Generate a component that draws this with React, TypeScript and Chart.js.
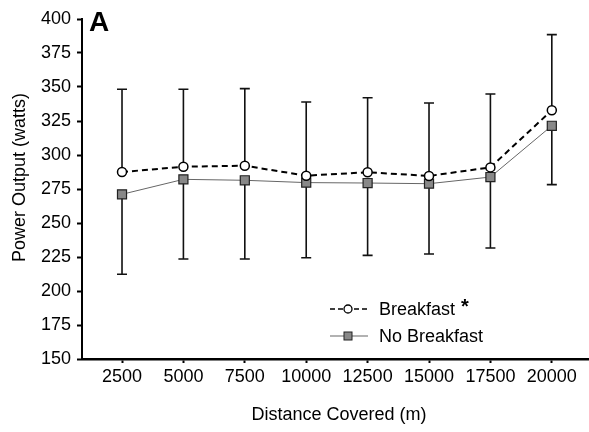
import React, { useEffect, useRef } from "react";
import { Chart, registerables } from "chart.js";

Chart.register(...registerables);

const distances = [2500, 5000, 7500, 10000, 12500, 15000, 17500, 20000];
const breakfastMean = [287.5, 291.4, 292.1, 284.8, 287.3, 284.6, 290.9, 332.9];
const breakfastUpper = [348.3, 348.3, 348.8, 339.0, 342.1, 338.2, 344.9, 388.5];
const noBreakfastMean = [271.1, 282.1, 281.4, 279.7, 279.4, 278.9, 283.8, 321.5];
const noBreakfastLower = [212.3, 223.5, 223.5, 224.5, 226.2, 227.2, 231.6, 278.2];
const yTicks = [150, 175, 200, 225, 250, 275, 300, 325, 350, 375, 400];

const FONT = "'Liberation Sans', Arial, sans-serif";

const errorBarPlugin = {
  id: "errorBars",
  beforeDatasetsDraw(chart: any) {
    const { ctx, scales } = chart;
    const xs = scales.x;
    const ys = scales.y;
    ctx.save();
    ctx.strokeStyle = "#111";
    ctx.lineWidth = 1.6;
    const cap = 5;
    distances.forEach((d, i) => {
      const x = xs.getPixelForValue(d);
      const yb = ys.getPixelForValue(breakfastMean[i]);
      const yu = ys.getPixelForValue(breakfastUpper[i]);
      const yn = ys.getPixelForValue(noBreakfastMean[i]);
      const yl = ys.getPixelForValue(noBreakfastLower[i]);
      ctx.beginPath();
      ctx.moveTo(x, yb);
      ctx.lineTo(x, yu);
      ctx.moveTo(x - cap, yu);
      ctx.lineTo(x + cap, yu);
      ctx.moveTo(x, yn);
      ctx.lineTo(x, yl);
      ctx.moveTo(x - cap, yl);
      ctx.lineTo(x + cap, yl);
      ctx.stroke();
    });
    ctx.restore();
  },
};

const textPlugin = {
  id: "texts",
  afterDraw(chart: any) {
    const { ctx } = chart;
    ctx.save();
    ctx.fillStyle = "#000";
    ctx.font = `bold 28px ${FONT}`;
    ctx.textAlign = "left";
    ctx.textBaseline = "alphabetic";
    ctx.fillText("A", 89, 31);
    ctx.font = `18px ${FONT}`;
    ctx.save();
    ctx.translate(25, 177.5);
    ctx.rotate(-Math.PI / 2);
    ctx.textAlign = "center";
    ctx.fillText("Power Output (watts)", 0, 0);
    ctx.restore();
    ctx.textAlign = "center";
    ctx.fillText("Distance Covered (m)", 339, 420);

    const lx0 = 330;
    const lx1 = 368;
    const cx = 348;
    let y = 309;
    ctx.strokeStyle = "#000";
    ctx.lineWidth = 1.5;
    ctx.setLineDash([5, 3]);
    ctx.beginPath();
    ctx.moveTo(lx0, y);
    ctx.lineTo(lx1, y);
    ctx.stroke();
    ctx.setLineDash([]);
    ctx.beginPath();
    ctx.arc(cx, y, 4, 0, Math.PI * 2);
    ctx.fillStyle = "#fff";
    ctx.fill();
    ctx.lineWidth = 1.3;
    ctx.stroke();
    ctx.fillStyle = "#000";
    ctx.textAlign = "left";
    ctx.font = `18px ${FONT}`;
    ctx.fillText("Breakfast", 379, 315);
    ctx.font = `bold 20px ${FONT}`;
    ctx.fillText("*", 461, 313);
    y = 336;
    ctx.strokeStyle = "#666";
    ctx.lineWidth = 1.2;
    ctx.beginPath();
    ctx.moveTo(lx0, y);
    ctx.lineTo(lx1, y);
    ctx.stroke();
    ctx.fillStyle = "#888";
    ctx.fillRect(cx - 4, y - 4, 8, 8);
    ctx.strokeStyle = "#222";
    ctx.lineWidth = 1;
    ctx.strokeRect(cx - 4, y - 4, 8, 8);
    ctx.fillStyle = "#000";
    ctx.font = `18px ${FONT}`;
    ctx.fillText("No Breakfast", 379, 342);
    ctx.restore();
  },
};

export default function App() {
  const ref = useRef<HTMLCanvasElement | null>(null);
  useEffect(() => {
    if (!ref.current) return;
    const chart = new Chart(ref.current, {
      type: "line",
      data: {
        datasets: [
          {
            label: "Breakfast",
            data: distances.map((d, i) => ({ x: d, y: breakfastMean[i] })),
            borderColor: "#000",
            borderWidth: 2,
            borderDash: [6, 4],
            pointStyle: "circle",
            pointRadius: 4.5,
            pointBackgroundColor: "#fff",
            pointBorderColor: "#000",
            pointBorderWidth: 1.5,
            tension: 0,
          },
          {
            label: "No Breakfast",
            data: distances.map((d, i) => ({ x: d, y: noBreakfastMean[i] })),
            borderColor: "#666",
            borderWidth: 1,
            pointStyle: "rect",
            pointRadius: 6.4,
            pointBackgroundColor: "#888",
            pointBorderColor: "#222",
            pointBorderWidth: 1.2,
            tension: 0,
          },
        ],
      },
      options: {
        animation: false,
        responsive: false,
        maintainAspectRatio: false,
        layout: { autoPadding: false, padding: { left: 0, right: 0, top: 19, bottom: 0 } },
        plugins: {
          legend: { display: false },
          tooltip: { enabled: false },
        },
        scales: {
          x: {
            type: "linear",
            min: 871,
            max: 21514,
            afterBuildTicks: (scale: any) => {
              scale.ticks = distances.map((v) => ({ value: v }));
            },
            afterFit: (scale: any) => {
              scale.height = 73;
              scale.paddingLeft = 0;
              scale.paddingRight = 0;
            },
            grid: {
              drawOnChartArea: false,
              drawTicks: true,
              tickLength: 4,
              tickWidth: 2,
              tickColor: "#000",
            },
            border: { display: true, color: "#000", width: 2.5 },
            ticks: {
              autoSkip: false,
              maxRotation: 0,
              padding: 3,
              color: "#000",
              font: { family: FONT, size: 18 },
              callback: (v: any) => String(v),
            },
          },
          y: {
            type: "linear",
            min: 150,
            max: 400,
            afterBuildTicks: (scale: any) => {
              scale.ticks = yTicks.map((v) => ({ value: v }));
            },
            afterFit: (scale: any) => {
              scale.width = 82;
              scale.paddingTop = 0;
              scale.paddingBottom = 0;
            },
            grid: {
              drawOnChartArea: false,
              drawTicks: true,
              tickLength: 5,
              tickWidth: 2,
              tickColor: "#000",
            },
            border: { display: true, color: "#000", width: 2 },
            ticks: {
              padding: 6,
              color: "#000",
              font: { family: FONT, size: 18 },
              callback: (v: any) => String(v),
            },
          },
        },
      },
      plugins: [errorBarPlugin, textPlugin],
    });
    return () => chart.destroy();
  }, []);
  return (
    <div style={{ position: "fixed", left: 0, top: 0, width: 589, height: 432, background: "#fff" }}>
      <canvas ref={ref} width={589} height={432} style={{ width: 589, height: 432, display: "block" }} />
    </div>
  );
}
